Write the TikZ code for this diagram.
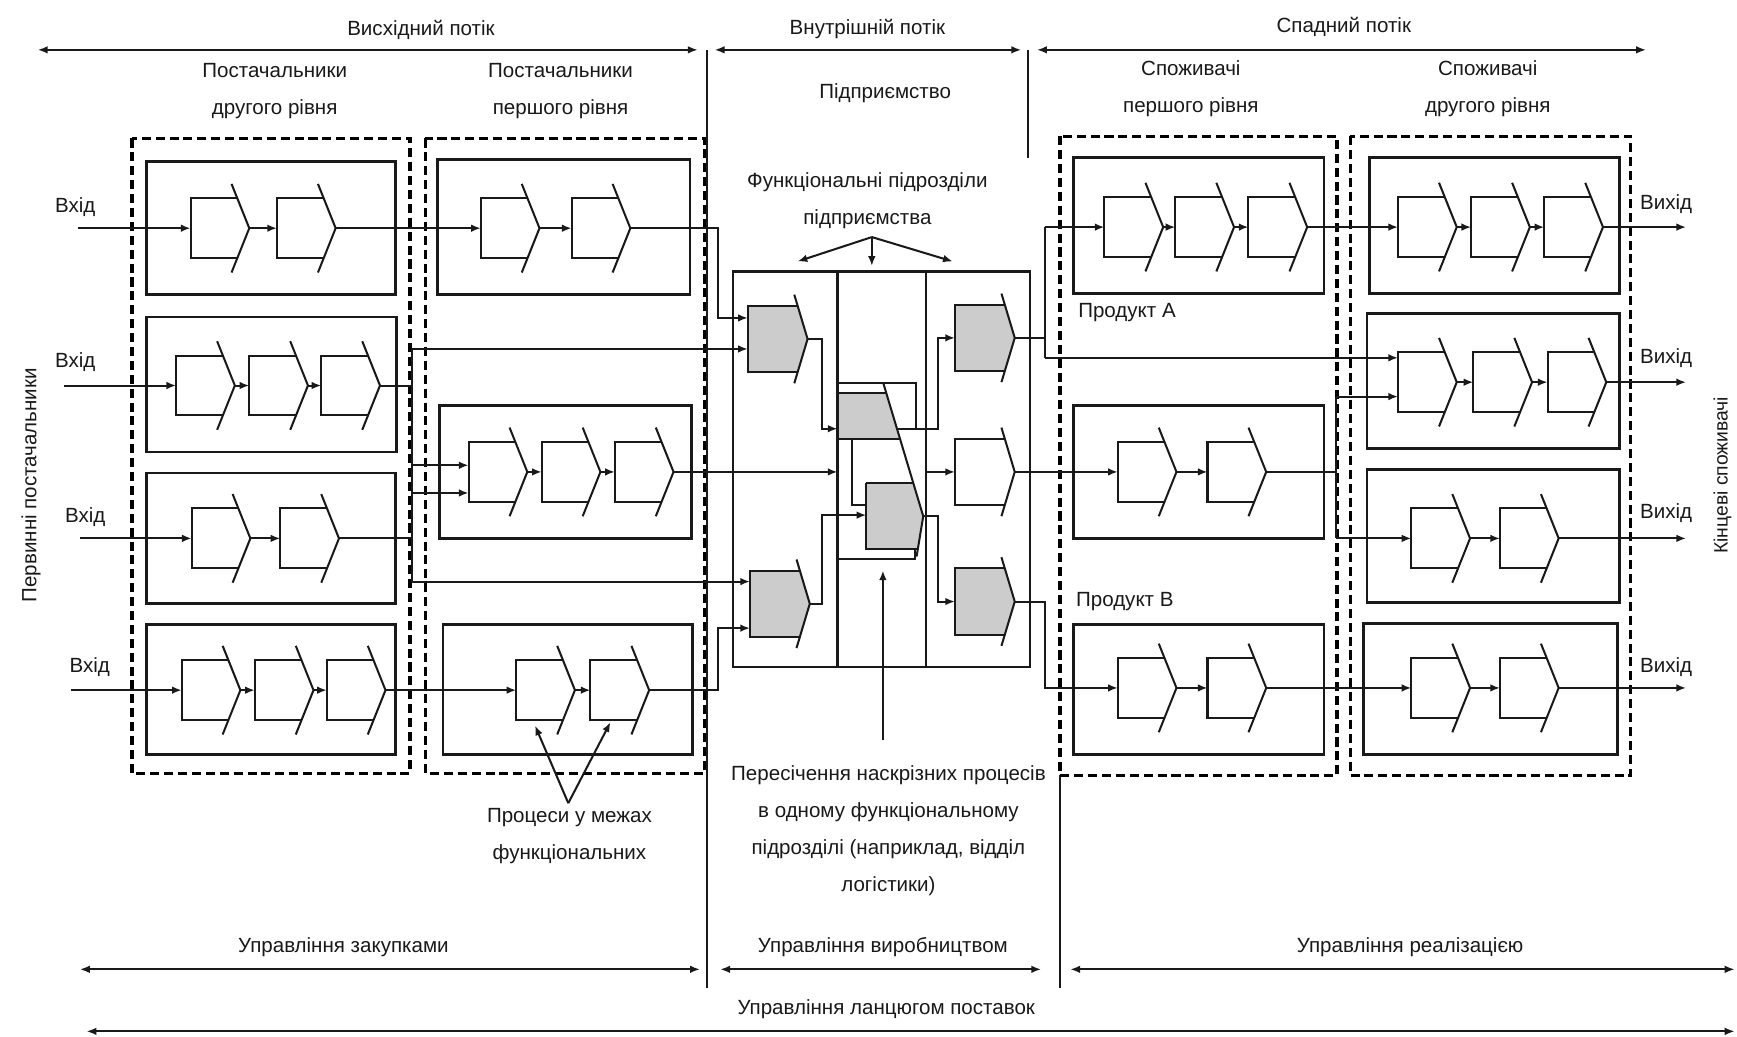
\documentclass[tikz,border=0pt]{standalone}
\usepackage{fontspec}
\setmainfont{Liberation Sans}
\usetikzlibrary{arrows.meta}
\tikzset{
  txt/.style={font=\fontsize{10.2}{18.4}\selectfont, inner sep=0pt, align=center, text=black!90},
  conn/.style={line width=1pt, draw=black!90},
  arr/.style={conn, -{Latex[length=4.8pt,width=3.8pt]}},
  darr/.style={conn, {Latex[length=5pt,width=3.8pt]}-{Latex[length=5pt,width=3.8pt]}},
  sbox/.style={line width=1.3pt, draw=black!90},
  dbox/.style={line width=1.7pt, draw=black, dash pattern=on 4.5pt off 2.4pt},
  proc/.pic={
    \fill[white] (0,-27) -- (42.2,-27) -- (53,0) -- (42.2,27) -- (0,27) -- cycle;
    \draw[line width=1pt, black!90] (42.2,-27) -- (0,-27) -- (0,27) -- (42.2,27);
    \draw[line width=1pt, black!90] (37,-40) -- (53,0) -- (37,40);
    \coordinate (-in) at (0,0);
    \coordinate (-out) at (53,0);
  },
  cprocw/.pic={
    \fill[white] (0,-30) -- (45,-30) -- (54,0) -- (45,30) -- (0,30) -- cycle;
    \draw[line width=1pt, black!90] (45,-30) -- (0,-30) -- (0,30) -- (45,30);
    \draw[line width=1pt, black!90] (42,-40) -- (54,0) -- (42,40);
    \coordinate (-in) at (0,0);
    \coordinate (-out) at (54,0);
  },
  cprocs/.pic={
    \fill[gray!40] (0,-30) -- (45,-30) -- (54,0) -- (45,30) -- (0,30) -- cycle;
    \draw[line width=1pt, black!90] (45,-30) -- (0,-30) -- (0,30) -- (45,30);
    \draw[line width=1pt, black!90] (42,-40) -- (54,0) -- (42,40);
    \coordinate (-in) at (0,0);
    \coordinate (-out) at (54,0);
  },
}
\begin{document}
\begin{tikzpicture}[x=0.55pt,y=-0.55pt]
\fill[white] (0,0) rectangle (1568,936);
\useasboundingbox (0,0) rectangle (1568,936);

% ---------- top flows ----------
\node[txt] (tv) at (380,27) {Висхідний потік};
\node[txt] (ti) at (783,26) {Внутрішній потік};
\node[txt] (ts) at (1213,24) {Спадний потік};
\coordinate (vL) at (34,45); \coordinate (vR) at (630,45);
\coordinate (iL) at (645,45); \coordinate (iR) at (922,45);
\coordinate (sL) at (936,45); \coordinate (sR) at (1486,45);
\draw[darr] (vL) -- (vR);
\draw[darr] (iL) -- (iR);
\draw[darr] (sL) -- (sR);
\coordinate (sep1t) at (638,45); \coordinate (sep1b) at (638,892);
\coordinate (sep2t) at (928,45); \coordinate (sep2b) at (928,143);
\coordinate (sep3t) at (957,700); \coordinate (sep3b) at (957,892);
\draw[conn] (sep1t) -- (sep1b);
\draw[conn] (sep2t) -- (sep2b);
\draw[conn] (sep3t) -- (sep3b);

\node[txt] (h1) at (248,82) {Постачальники\\другого рівня};
\node[txt] (h2) at (506,82) {Постачальники\\першого рівня};
\node[txt] (h3) at (799,84) {Підприємство};
\node[txt] (h4) at (1075,80) {Споживачі\\першого рівня};
\node[txt] (h5) at (1343,80) {Споживачі\\другого рівня};
\node[txt] (h6) at (783,181) {Функціональні підрозділи\\підприємства};

\node[txt, rotate=90] (lprim) at (28,438) {Первинні постачальники};
\node[txt, rotate=90, font=\fontsize{9.6}{12}\selectfont] (rfin) at (1555,429) {Кінцеві споживачі};

% ---------- dashed groups ----------
\draw[dbox] (119,125) rectangle (370,698);
\draw[dbox] (384,125) rectangle (636,698);
\draw[dbox] (957,123) rectangle (1207,700);
\draw[dbox] (1219,123) rectangle (1472,700);

% ---------- solid boxes ----------
\draw[sbox] (132,146) rectangle (357,266);
\draw[sbox] (132,286) rectangle (358,408);
\draw[sbox] (132,427) rectangle (357,545);
\draw[sbox] (132,564) rectangle (357,681);
\draw[sbox] (395,144) rectangle (623,266);
\draw[sbox] (397,366) rectangle (624,486);
\draw[sbox] (400,564) rectangle (625,681);
\draw[sbox] (969,142) rectangle (1195,265);
\draw[sbox] (969,366) rectangle (1195,486);
\draw[sbox] (969,564) rectangle (1195,681);
\draw[sbox] (1236,142) rectangle (1462,265);
\draw[sbox] (1234,283) rectangle (1462,405);
\draw[sbox] (1234,424) rectangle (1462,544);
\draw[sbox] (1231,563) rectangle (1460,681);

% ---------- processes: second-tier suppliers ----------
\pic (a11) at (172,206) {proc}; \pic (a12) at (250,206) {proc};
\pic (a21) at (159,348) {proc}; \pic (a22) at (225,348) {proc}; \pic (a23) at (290,348) {proc};
\pic (a31) at (173,486) {proc}; \pic (a32) at (253,486) {proc};
\pic (a41) at (164,623) {proc}; \pic (a42) at (230,623) {proc}; \pic (a43) at (295,623) {proc};
% first-tier suppliers
\pic (b11) at (434,206) {proc}; \pic (b12) at (516,206) {proc};
\pic (b21) at (423,426) {proc}; \pic (b22) at (489,426) {proc}; \pic (b23) at (555,426) {proc};
\pic (b31) at (466,623) {proc}; \pic (b32) at (533,623) {proc};
% first-tier customers
\pic (c11) at (997,205) {proc}; \pic (c12) at (1061,205) {proc}; \pic (c13) at (1127,205) {proc};
\pic (c21) at (1009,426) {proc}; \pic (c22) at (1090,426) {proc};
\pic (c31) at (1009,621) {proc}; \pic (c32) at (1090,621) {proc};
% second-tier customers
\pic (d11) at (1262,205) {proc}; \pic (d12) at (1328,205) {proc}; \pic (d13) at (1394,205) {proc};
\pic (d21) at (1262,345) {proc}; \pic (d22) at (1330,345) {proc}; \pic (d23) at (1397,345) {proc};
\pic (d31) at (1274,486) {proc}; \pic (d32) at (1354,486) {proc};
\pic (d41) at (1274,621) {proc}; \pic (d42) at (1354,621) {proc};

% ---------- inputs ----------
\node[txt] (lin1) at (68,187) {Вхід};
\node[txt] (lin2) at (68,327) {Вхід};
\node[txt] (lin3) at (77,467) {Вхід};
\node[txt] (lin4) at (81,602) {Вхід};
\coordinate (in1) at (70,206); \coordinate (in2) at (58,348);
\coordinate (in3) at (72,486); \coordinate (in4) at (64,623);
\draw[arr] (in1) -- (a11-in);
\draw[arr] (in2) -- (a21-in);
\draw[arr] (in3) -- (a31-in);
\draw[arr] (in4) -- (a41-in);

% chains inside rows
\draw[arr] (a11-out) -- (a12-in);
\draw[arr] (a21-out) -- (a22-in); \draw[arr] (a22-out) -- (a23-in);
\draw[arr] (a31-out) -- (a32-in);
\draw[arr] (a41-out) -- (a42-in); \draw[arr] (a42-out) -- (a43-in);
\draw[arr] (b11-out) -- (b12-in);
\draw[arr] (b21-out) -- (b22-in); \draw[arr] (b22-out) -- (b23-in);
\draw[arr] (b31-out) -- (b32-in);
\draw[arr] (c11-out) -- (c12-in); \draw[arr] (c12-out) -- (c13-in);
\draw[arr] (c21-out) -- (c22-in);
\draw[arr] (c31-out) -- (c32-in);
\draw[arr] (d11-out) -- (d12-in); \draw[arr] (d12-out) -- (d13-in);
\draw[arr] (d21-out) -- (d22-in); \draw[arr] (d22-out) -- (d23-in);
\draw[arr] (d31-out) -- (d32-in);
\draw[arr] (d41-out) -- (d42-in);

% ---------- links between tiers ----------
\draw[arr] (a12-out) -- (b11-in);
\draw[arr] (a43-out) -- (b31-in);
\coordinate (busT) at (372,315); \coordinate (busB) at (372,525);
\coordinate (bus1) at (372,420); \coordinate (bus2) at (372,445);
\draw[conn] (busT) -- (busB);
\draw[conn] (a23-out) -- (a23-out -| busT);
\draw[conn] (a32-out) -- (a32-out -| busT);
\draw[arr] (bus1) -- (bus1 -| b21-in);
\draw[arr] (bus2) -- (bus2 -| b21-in);

% ---------- enterprise block ----------
\draw[line width=1.1pt, black!90] (662,245) rectangle (930,602);
\coordinate (dv1t) at (756,245); \coordinate (dv1b) at (756,602);
\coordinate (dv2t) at (836,245); \coordinate (dv2b) at (836,602);
\pic (L1) at (675,306) {cprocs};
\pic (L2) at (677,545) {cprocs};
\pic (R1) at (862,305) {cprocs};
\pic (R2) at (862,426) {cprocw};
\pic (R3) at (862,543) {cprocs};

% overlapping processes in the middle unit
\fill[gray!40] (756,355) -- (800,355) -- (812,396) -- (756,396) -- cycle;
\fill[gray!40] (782,436) -- (824.4,436) -- (833.4,466) -- (828.4,496) -- (782,496) -- cycle;
\draw[line width=1.1pt, black!90] (dv1t) -- (dv1b);
\draw[line width=1.1pt, black!90] (dv2t) -- (dv2b);
\draw[conn] (756,355) -- (800,355);
\draw[conn] (756,396) -- (812,396);
\draw[conn] (756,346) -- (827,346) -- (827,387);
\draw[conn] (797.4,346) -- (833.4,466) -- (827.4,502.4);
\draw[conn] (782,436) -- (824.4,436);
\draw[conn] (782,436) -- (782,496) -- (828.4,496);
\draw[conn] (769,396) -- (769,456) -- (782,456);
\draw[conn] (756,505) -- (826,505) -- (826,496);

% inputs to enterprise
\coordinate (j1) at (648,287); \coordinate (j2) at (648,567);
\draw[arr] (b12-out) -| (j1) -- (j1 -| L1-in);
\draw[arr] (busT) -- (busT -| L1-in);
\draw[arr] (busB) -- (busB -| L2-in);
\draw[arr] (b32-out) -| (j2) -- (j2 -| L2-in);
\coordinate (mdL) at (756,426);
\draw[arr] (b23-out) -- (mdL);

% inside enterprise
\coordinate (k1) at (742,387); \coordinate (k2) at (742,465);
\coordinate (m2in) at (782,465);
\draw[arr] (L1-out) -| (k1) -- (k1 -| mdL);
\draw[arr] (L2-out) -| (k2) -- (m2in);
\coordinate (m1out) at (810,387); \coordinate (k3) at (847,387);
\coordinate (m2tip) at (833.4,466); \coordinate (k4) at (847,466);
\coordinate (mdR) at (836,426);
\draw[arr] (m1out) -- (k3) |- (R1-in);
\draw[arr] (m2tip) -- (k4) |- (R3-in);
\draw[arr] (mdR) -- (R2-in);

% functional units arrows
\coordinate (fo) at (787,214); \coordinate (fl) at (720,236);
\coordinate (fm) at (787,240); \coordinate (fr) at (860,236);
\draw[arr] (fo) -- (fl); \draw[arr] (fo) -- (fm); \draw[arr] (fo) -- (fr);

% ---------- outputs of enterprise ----------
\coordinate (k5) at (943,305); \coordinate (k5t) at (943,205); \coordinate (k5b) at (943,323);
\draw[conn] (R1-out) -- (k5);
\draw[conn] (k5t) -- (k5b);
\draw[arr] (k5t) -- (c11-in);
\draw[arr] (k5b) -- (k5b -| d21-in);
\draw[arr] (R2-out) -- (c21-in);
\coordinate (k6) at (943,621);
\draw[arr] (R3-out) -| (k6) -- (c31-in);

\node[txt, anchor=west] (pa) at (973,282) {Продукт А};
\node[txt, anchor=west] (pb) at (971,543) {Продукт В};

% first-tier to second-tier customers
\draw[arr] (c13-out) -- (d11-in);
\coordinate (k7t) at (1206,358); \coordinate (k7b) at (1206,486);
\draw[conn] (c22-out) -- (c22-out -| k7t);
\draw[conn] (k7t) -- (k7b);
\draw[arr] (k7t) -- (k7t -| d21-in);
\draw[arr] (k7b) -- (d31-in);
\draw[arr] (c32-out) -- (d41-in);

% final outputs
\coordinate (o1) at (1522,205); \coordinate (o2) at (1522,345);
\coordinate (o3) at (1522,486); \coordinate (o4) at (1522,621);
\draw[arr] (d13-out) -- (o1);
\draw[arr] (d23-out) -- (o2);
\draw[arr] (d32-out) -- (o3);
\draw[arr] (d42-out) -- (o4);
\node[txt] (out1) at (1504,184) {Вихід};
\node[txt] (out2) at (1504,323) {Вихід};
\node[txt] (out3) at (1504,463) {Вихід};
\node[txt] (out4) at (1504,602) {Вихід};

% ---------- bottom annotations ----------
\node[txt] (np) at (514,755) {Процеси у межах\\функціональних};
\coordinate (pv) at (513,725); \coordinate (pv1) at (483,655); \coordinate (pv2) at (551,652);
\draw[arr] (pv) -- (pv1);
\draw[arr] (pv) -- (pv2);

\node[txt] (nx) at (802,750) {Пересічення наскрізних процесів\\в одному функціональному\\підрозділі (наприклад, відділ\\логістики)};
\coordinate (xa) at (797,668); \coordinate (xb) at (797,515);
\draw[arr] (xa) -- (xb);

\node[txt] (m1) at (310,855) {Управління закупками};
\node[txt] (m2) at (797,855) {Управління виробництвом};
\node[txt] (m3) at (1273,855) {Управління реалізацією};
\coordinate (m1a) at (72,875); \coordinate (m1b) at (632,875);
\coordinate (m2a) at (650,875); \coordinate (m2b) at (940,875);
\coordinate (m3a) at (966,875); \coordinate (m3b) at (1566,875);
\draw[darr] (m1a) -- (m1b);
\draw[darr] (m2a) -- (m2b);
\draw[darr] (m3a) -- (m3b);

\node[txt] (m4) at (800,911) {Управління ланцюгом поставок};
\coordinate (m4a) at (78,931); \coordinate (m4b) at (1566,931);
\draw[darr] (m4a) -- (m4b);
\end{tikzpicture}
\end{document}
